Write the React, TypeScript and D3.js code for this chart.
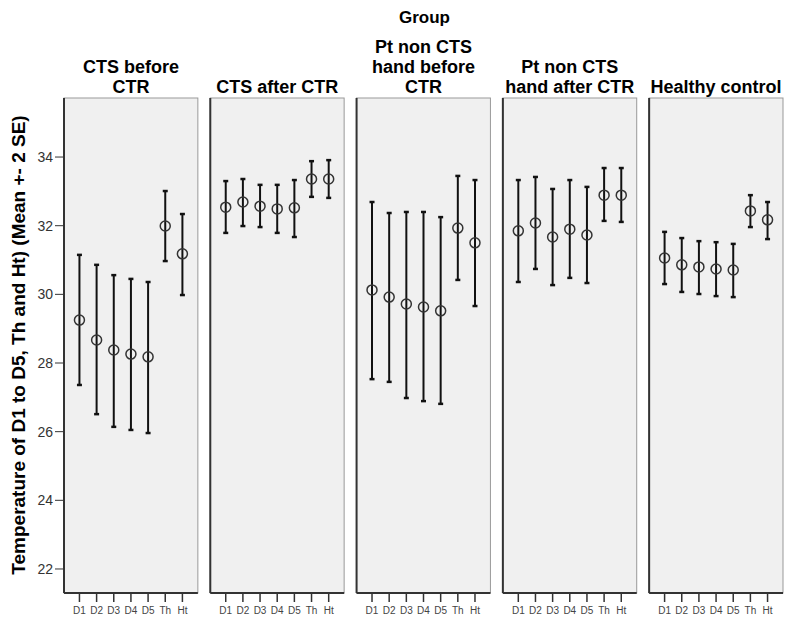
import React from 'react';
import * as d3 from 'd3';

const groups = [
  ['CTS before', 'CTR'],
  ['CTS after CTR'],
  ['Pt non CTS', 'hand before', 'CTR'],
  ['Pt non CTS', 'hand after CTR'],
  ['Healthy control'],
];
const sites = ['D1', 'D2', 'D3', 'D4', 'D5', 'Th', 'Ht'];
const yTicks = [22, 24, 26, 28, 30, 32, 34];

// mean, lower (-2 SE), upper (+2 SE) per group, per site
const means = [
  [29.25, 28.67, 28.38, 28.26, 28.18, 31.99, 31.18],
  [32.54, 32.69, 32.57, 32.49, 32.52, 33.36, 33.36],
  [30.13, 29.92, 29.72, 29.63, 29.52, 31.93, 31.5],
  [31.85, 32.08, 31.67, 31.9, 31.73, 32.89, 32.89],
  [31.06, 30.86, 30.8, 30.74, 30.71, 32.43, 32.17],
];
const lowers = [
  [27.36, 26.51, 26.14, 26.05, 25.96, 30.97, 29.98],
  [31.79, 31.99, 31.96, 31.79, 31.67, 32.84, 32.81],
  [27.53, 27.45, 26.98, 26.89, 26.81, 30.42, 29.66],
  [30.36, 30.74, 30.27, 30.48, 30.33, 32.14, 32.11],
  [30.3, 30.07, 30.01, 29.95, 29.92, 31.96, 31.61],
];
const uppers = [
  [31.15, 30.86, 30.56, 30.45, 30.36, 33.01, 32.34],
  [33.3, 33.36, 33.19, 33.19, 33.33, 33.88, 33.91],
  [32.69, 32.37, 32.4, 32.4, 32.25, 33.45, 33.33],
  [33.33, 33.42, 33.07, 33.33, 33.13, 33.68, 33.68],
  [31.82, 31.64, 31.55, 31.52, 31.47, 32.89, 32.69],
];

const W = 789;
const H = 618;
const top = 98;
const bottom = 593;
const font = 'Arial, "Liberation Sans", sans-serif';

export default function App() {
  const panel = d3.scaleBand<number>()
    .domain(d3.range(groups.length))
    .range([64, 783])
    .paddingInner(0.085);
  const y = d3.scaleLinear().domain([21.3, 35.72]).range([bottom, top]);
  const x = d3.scalePoint<string>().domain(sites).range([0, panel.bandwidth()]).padding(0.9);

  return (
    <svg width={W} height={H} style={{ position: 'absolute', left: 0, top: 0, background: '#fff' }}>
      <text x={W / 2 + 30} y={23} textAnchor="middle" fontFamily={font} fontWeight="bold" fontSize={17}>
        Group
      </text>
      <text
        transform={`translate(25, 345) rotate(-90)`}
        textAnchor="middle"
        fontFamily={font}
        fontWeight="bold"
        fontSize={19}
      >
        Temperature of D1 to D5, Th and Ht) (Mean +- 2 SE)
      </text>

      {/* y axis */}
      {yTicks.map(t => (
        <g key={t}>
          <line x1={55} x2={64} y1={y(t)} y2={y(t)} stroke="#333" strokeWidth={1} />
          <text x={53} y={y(t) + 5} textAnchor="end" fontFamily={font} fontSize={14} fill="#333">
            {t}
          </text>
        </g>
      ))}

      {groups.map((lines, gi) => {
        const x0 = panel(gi)!;
        const bw = panel.bandwidth();
        return (
          <g key={gi}>
            {lines.map((l, li) => (
              <text
                key={li}
                x={x0 + bw / 2}
                y={93 - (lines.length - 1 - li) * 20}
                textAnchor="middle"
                fontFamily={font}
                fontWeight="bold"
                fontSize={18}
              >
                {l}
              </text>
            ))}
            <rect x={x0} y={top} width={bw} height={bottom - top} fill="#f0f0f0" stroke="#999" strokeWidth={1} />
            <line x1={x0} x2={x0} y1={top} y2={bottom} stroke="#333" strokeWidth={2} />
            <line x1={x0} x2={x0 + bw} y1={bottom} y2={bottom} stroke="#333" strokeWidth={2} />
            {sites.map((s, si) => {
              const cx = x0 + x(s)!;
              return (
                <g key={s}>
                  <line x1={cx} x2={cx} y1={bottom + 1} y2={bottom + 9} stroke="#333" strokeWidth={1.5} />
                  <text x={cx} y={614} textAnchor="middle" fontFamily={font} fontSize={10} fill="#444">
                    {s}
                  </text>
                  <line x1={cx} x2={cx} y1={y(uppers[gi][si])} y2={y(lowers[gi][si])} stroke="#111" strokeWidth={2} />
                  <line x1={cx - 2.5} x2={cx + 2.5} y1={y(uppers[gi][si])} y2={y(uppers[gi][si])} stroke="#111" strokeWidth={2.5} />
                  <line x1={cx - 2.5} x2={cx + 2.5} y1={y(lowers[gi][si])} y2={y(lowers[gi][si])} stroke="#111" strokeWidth={2.5} />
                  <circle cx={cx} cy={y(means[gi][si])} r={5} fill="none" stroke="#333" strokeWidth={1.5} />
                </g>
              );
            })}
          </g>
        );
      })}
    </svg>
  );
}
